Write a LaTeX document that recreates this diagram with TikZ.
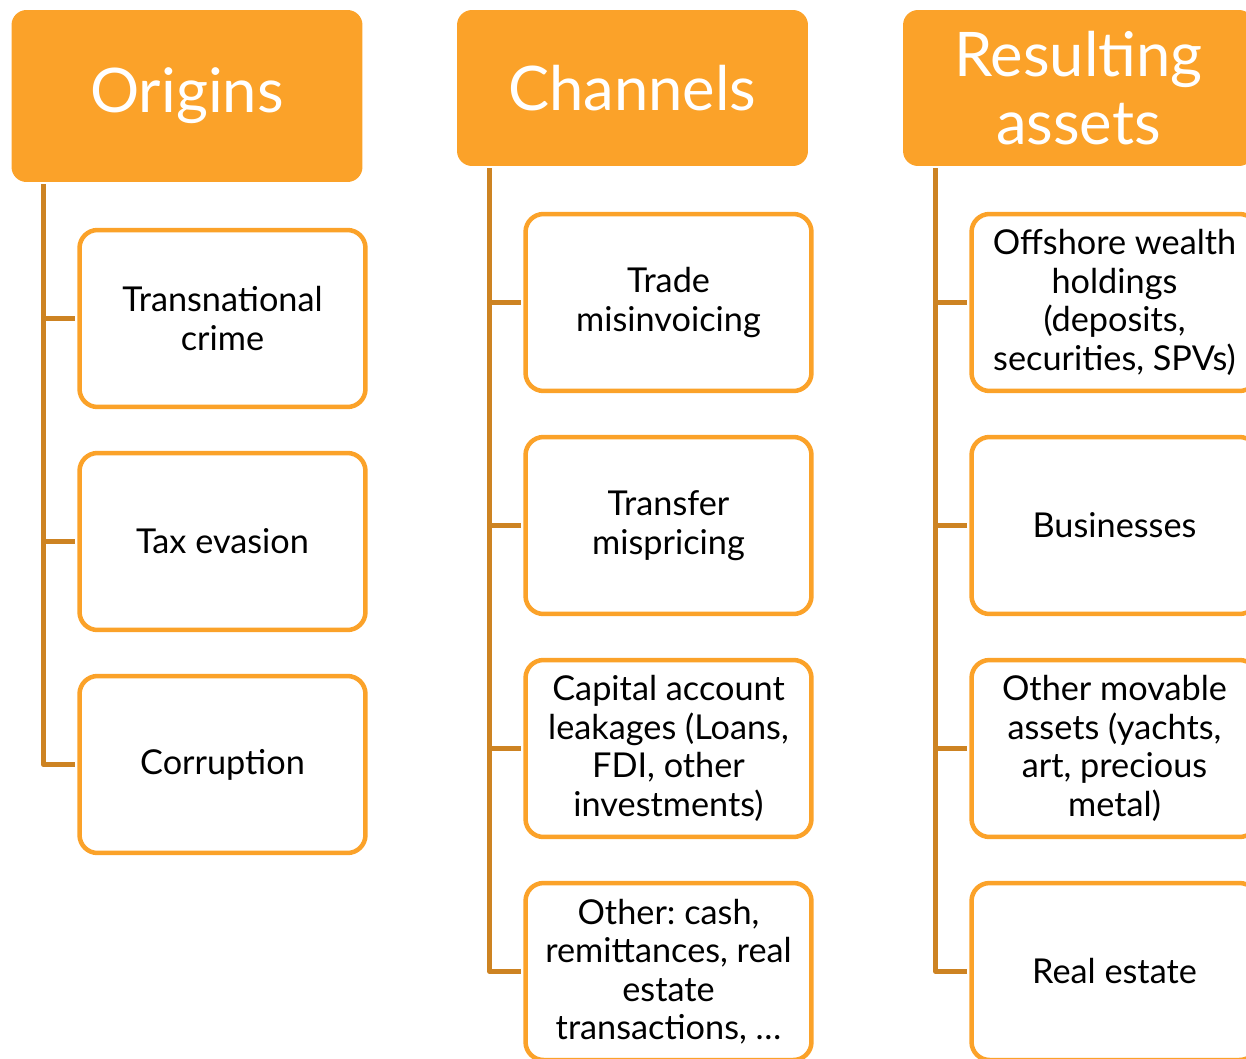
\documentclass[tikz,border=0pt]{standalone}
\usepackage{fontspec}
\setmainfont{Lato}
\frenchspacing

\definecolor{hdrorange}{HTML}{FBA229}
\definecolor{linkbrown}{HTML}{CD8322}

\tikzset{
  header/.style={rectangle, rounded corners=0.3cm, fill=hdrorange, text=white,
    minimum width=7.02cm, minimum height=3.12cm, inner sep=0pt, align=center,
    font=\fontsize{35}{38.7}\selectfont},
  item/.style={rectangle, rounded corners=0.36cm, draw=hdrorange, line width=0.09cm,
    fill=white, minimum width=5.72cm, minimum height=3.54cm, inner sep=0pt, align=center,
    font=\fontsize{19.5}{21.9}\selectfont},
  link/.style={draw=linkbrown, line width=0.1cm, line join=round, shorten >=0.04cm}
}

\begin{document}
\begin{tikzpicture}[x=0.02cm, y=-0.02cm]

  \useasboundingbox (0,0) rectangle (1246,1058);
  \clip (0,0) rectangle (1246,1058);

  \node[header, minimum height=3.44cm] (orig) at (187,96)    {Origins};
  \node[header] (chan) at (632.5,88)  {Channels};
  \node[header] (asset) at (1078.5,88) {Resulting\\assets};

  \begin{scope}[every node/.style={item}]
    \node (o1) at (222.5,318.5) {Transnational\\crime};
    \node (o2) at (222.5,541.5) {Tax evasion};
    \node (o3) at (222.5,764.5) {Corruption};

    \node (c1) at (668.5,302.5) {Trade\\misinvoicing};
    \node (c2) at (668.5,525.5) {Transfer\\mispricing};
    \node (c3) at (668.5,748.5) {Capital account\\leakages (Loans,\\FDI, other\\investments)};
    \node (c4) at (668.5,971.5) {Other: cash,\\remittances, real\\estate\\transactions, \ldots};

    \node (a1) at (1114.5,302.5) {Offshore wealth\\holdings\\(deposits,\\securities, SPVs)};
    \node (a2) at (1114.5,525.5) {Businesses};
    \node (a3) at (1114.5,748.5) {Other movable\\assets (yachts,\\art, precious\\metal)};
    \node (a4) at (1114.5,971.5) {Real estate};
  \end{scope}

  \foreach \i in {1,2,3}
    \draw[link] ([xshift=0.64cm, yshift=-0.04cm]orig.south west) |- (o\i.west);
  \foreach \i in {1,2,3,4} {
    \draw[link] ([xshift=0.66cm, yshift=-0.04cm]chan.south west) |- (c\i.west);
    \draw[link] ([xshift=0.66cm, yshift=-0.04cm]asset.south west) |- (a\i.west);
  }

\end{tikzpicture}
\end{document}
